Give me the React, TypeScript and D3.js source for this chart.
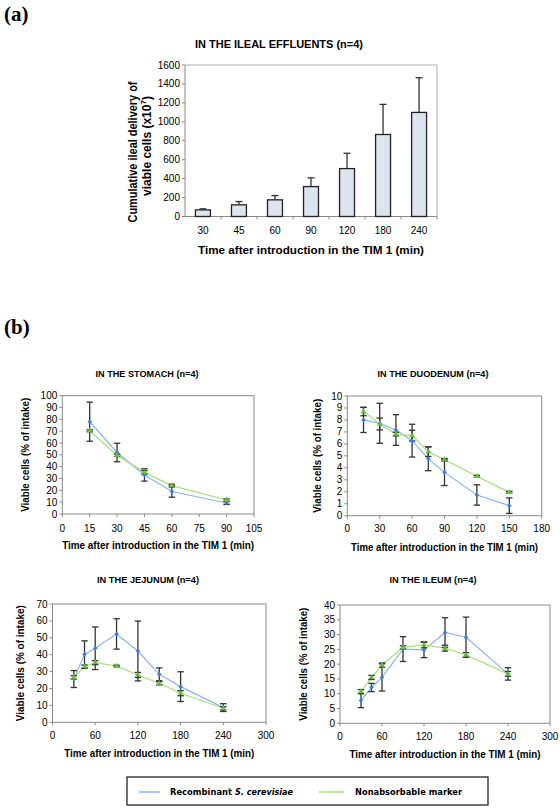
import React from 'react';
import * as d3 from 'd3';

// ---------- DATA ----------
const barCategories = ['30', '45', '60', '90', '120', '180', '240'];
const barValues = [70, 123, 176, 316, 506, 866, 1099];
const barErrors = [11, 35, 45, 92, 162, 318, 367];
const barTicks = [0, 200, 400, 600, 800, 1000, 1200, 1400, 1600];

const stomachTimes = [15, 30, 45, 60, 90];
const stomachRecomb = [78, 52, 33, 19, 9.3];
const stomachRecombSd = [16.5, 7.8, 5.2, 4.8, 1.2];
const stomachMarker = [70.4, 49.6, 35.2, 24, 11.8];
const stomachMarkerSd = [0.8, 1, 1.5, 1.2, 1];

const duodenumTimes = [15, 30, 45, 60, 75, 90, 120, 150];
const duodenumRecomb = [8.0, 7.72, 7.16, 6.27, 4.76, 3.62, 1.73, 0.84];
const duodenumRecombSd = [1.05, 1.67, 1.28, 1.37, 1.0, 1.1, 0.85, 0.65];
const duodenumMarker = [8.7, 7.66, 6.82, 6.69, 5.35, 4.68, 3.29, 1.95];
const duodenumMarkerSd = [0.35, 0.5, 0.15, 0.45, 0.4, 0.1, 0.08, 0.08];

const jejunumTimes = [30, 45, 60, 90, 120, 150, 180, 240];
const jejunumRecomb = [25.6, 40.2, 43.8, 52.3, 42.2, 28.4, 21.1, 8.7];
const jejunumRecombSd = [5, 8, 12.6, 9, 17.7, 3.8, 8.8, 2.3];
const jejunumMarker = [26.6, 32.9, 35.3, 33.3, 28, 23.1, 17.2, 8.3];
const jejunumMarkerSd = [1, 1, 1.2, 0.5, 1.5, 1, 1.5, 1];

const ileumTimes = [30, 45, 60, 90, 120, 150, 180, 240];
const ileumRecomb = [7.7, 12.1, 15.5, 25.1, 24.8, 30.7, 29.1, 16.7];
const ileumRecombSd = [2.4, 1.4, 4.6, 4.2, 2.6, 5, 6.8, 2.1];
const ileumMarker = [10.7, 15.5, 19.7, 25.7, 26.5, 25.4, 23.1, 16.7];
const ileumMarkerSd = [0.7, 0.7, 0.7, 0.5, 1, 1, 0.8, 0.8];

const seriesNames = ['Recombinant', 'S. cerevisiae', 'Nonabsorbable marker'];

// ---------- STYLE ----------
const BLUE_LINE = '#8db6e6';
const BLUE_MARK = '#3b7dd8';
const GREEN_LINE = '#a8de7e';
const GREEN_MARK = '#5ec23a';
const ERR = '#333';
const FRAME = '#8a8a8a';
const TICKFONT = '"Liberation Sans", Arial, sans-serif';
const BOLDFONT = '"DejaVu Sans", Verdana, sans-serif';

type PanelProps = {
  title: string;
  titleX: number; titleY: number; titleLen: number;
  x0: number; x1: number; y0: number; y1: number;
  xMax: number; xStep: number; yMax: number; yStep: number;
  times: number[];
  rec: number[]; recSd: number[];
  mar: number[]; marSd: number[];
  xLabelY: number; xTitleY: number; xTitleLen: number;
  yTitleX: number; yTitleLen: number;
};

function LinePanel(p: PanelProps) {
  const x = d3.scaleLinear().domain([0, p.xMax]).range([p.x0, p.x1]);
  const y = d3.scaleLinear().domain([0, p.yMax]).range([p.y1, p.y0]);
  const xt = d3.range(0, p.xMax + 0.001, p.xStep);
  const yt = d3.range(0, p.yMax + 0.001, p.yStep);
  const line = d3.line<number>().x((_, i) => x(p.times[i])).y(d => y(d));
  const yMid = (p.y0 + p.y1) / 2;
  const tri = d3.symbol().type(d3.symbolTriangle).size(14)() as string;
  const err = (vals: number[], sds: number[], key: string, cap: number) =>
    p.times.map((t, i) => {
      const cx = x(t);
      const top = y(vals[i] + sds[i]);
      const bot = y(Math.max(0, vals[i] - sds[i]));
      return (
        <g key={key + i} stroke={ERR} strokeWidth={1.3}>
          <line x1={cx} x2={cx} y1={top} y2={bot} />
          <line x1={cx - cap} x2={cx + cap} y1={top} y2={top} />
          <line x1={cx - cap} x2={cx + cap} y1={bot} y2={bot} />
        </g>
      );
    });
  return (
    <g>
      <text x={p.titleX} y={p.titleY} textAnchor="middle" fontFamily={TICKFONT} fontWeight="bold" fontSize={9.5}
        textLength={p.titleLen} lengthAdjust="spacingAndGlyphs">{p.title}</text>
      <rect x={p.x0} y={p.y0} width={p.x1 - p.x0} height={p.y1 - p.y0} fill="none" stroke={FRAME} strokeWidth={1} />
      {yt.map(v => (
        <g key={'y' + v}>
          <line x1={p.x0 - 3} x2={p.x0} y1={y(v)} y2={y(v)} stroke={FRAME} />
          <text x={p.x0 - 5} y={y(v) + 3.5} textAnchor="end" fontFamily={TICKFONT} fontSize={10}>{v}</text>
        </g>
      ))}
      {xt.map(v => (
        <g key={'x' + v}>
          <line x1={x(v)} x2={x(v)} y1={p.y1} y2={p.y1 + 3} stroke={FRAME} />
          <text x={x(v)} y={p.xLabelY} textAnchor="middle" fontFamily={TICKFONT} fontSize={10}>{v}</text>
        </g>
      ))}
      <path d={line(p.rec) as string} fill="none" stroke={BLUE_LINE} strokeWidth={1.2} />
      <path d={line(p.mar) as string} fill="none" stroke={GREEN_LINE} strokeWidth={1.2} />
      {err(p.rec, p.recSd, 'r', 3.2)}
      {err(p.mar, p.marSd, 'm', 3.2)}
      {p.times.map((t, i) => (
        <rect key={'rm' + i} x={x(t) - 1.6} y={y(p.rec[i]) - 1.6} width={3.2} height={3.2} fill={BLUE_MARK}
          transform={`rotate(45 ${x(t)} ${y(p.rec[i])})`} />
      ))}
      {p.times.map((t, i) => (
        <path key={'mm' + i} d={tri} transform={`translate(${x(t)},${y(p.mar[i])})`} fill={GREEN_MARK} />
      ))}
      <text x={(p.x0 + p.x1) / 2} y={p.xTitleY} textAnchor="middle" fontFamily={TICKFONT} fontWeight="bold" fontSize={10}
        textLength={p.xTitleLen} lengthAdjust="spacingAndGlyphs">Time after introduction in the TIM 1 (min)</text>
      <text transform={`translate(${p.yTitleX},${yMid}) rotate(-90)`} textAnchor="middle" fontFamily={TICKFONT}
        fontWeight="bold" fontSize={10.5} textLength={p.yTitleLen} lengthAdjust="spacingAndGlyphs">Viable cells (% of intake)</text>
    </g>
  );
}

function BarPanel() {
  const x0 = 185, x1 = 437, y0 = 65, y1 = 216.5;
  const x = d3.scaleBand().domain(barCategories).range([x0, x1]).paddingInner(0.585).paddingOuter(0.29);
  const y = d3.scaleLinear().domain([0, 1600]).range([y1, y0]);
  const band = d3.scaleBand().domain(barCategories).range([x0, x1]);
  return (
    <g>
      <text x={279} y={48} textAnchor="middle" fontFamily={TICKFONT} fontWeight="bold" fontSize={10.5}
        textLength={168} lengthAdjust="spacingAndGlyphs">IN THE ILEAL EFFLUENTS (n=4)</text>
      <line x1={x0} x2={x1} y1={y0} y2={y0} stroke="#b0b0b0" />
      <line x1={x1} x2={x1} y1={y0} y2={y1} stroke="#b0b0b0" />
      <line x1={x0} x2={x0} y1={y0} y2={y1} stroke={FRAME} />
      <line x1={x0} x2={x1} y1={y1} y2={y1} stroke={FRAME} />
      {barTicks.map(v => (
        <g key={'by' + v}>
          <line x1={x0 - 3} x2={x0} y1={y(v)} y2={y(v)} stroke={FRAME} />
          <text x={x0 - 5} y={y(v) + 3.5} textAnchor="end" fontFamily={TICKFONT} fontSize={10}>{v}</text>
        </g>
      ))}
      {barCategories.map((c) => (
        <g key={'bx' + c}>
          <line x1={(band(c) as number) + band.bandwidth()} x2={(band(c) as number) + band.bandwidth()} y1={y1} y2={y1 + 3} stroke={FRAME} />
          <text x={(band(c) as number) + band.bandwidth() / 2} y={234} textAnchor="middle" fontFamily={TICKFONT} fontSize={10}>{c}</text>
        </g>
      ))}
      {barCategories.map((c, i) => {
        const bx = x(c) as number;
        const cx = bx + x.bandwidth() / 2;
        const top = y(barValues[i]);
        const et = y(barValues[i] + barErrors[i]);
        return (
          <g key={'bar' + c}>
            <line x1={cx} x2={cx} y1={top} y2={et} stroke={ERR} strokeWidth={1.3} />
            <line x1={cx - 3.5} x2={cx + 3.5} y1={et} y2={et} stroke={ERR} strokeWidth={1.3} />
            <rect x={bx} y={top} width={x.bandwidth()} height={y1 - top} fill="#dde4ef" stroke="#222" strokeWidth={1.3} />
          </g>
        );
      })}
      <text x={311} y={254} textAnchor="middle" fontFamily={TICKFONT} fontWeight="bold" fontSize={11.5}
        textLength={226} lengthAdjust="spacingAndGlyphs">Time after introduction in the TIM 1 (min)</text>
      <text transform="translate(137,152) rotate(-90)" textAnchor="middle" fontFamily={TICKFONT} fontWeight="bold"
        fontSize={12} textLength={141} lengthAdjust="spacingAndGlyphs">Cumulative ileal delivery of</text>
      <text transform="translate(151,146) rotate(-90)" textAnchor="middle" fontFamily={TICKFONT} fontWeight="bold"
        fontSize={12}>viable cells (x10<tspan fontSize={8} dy={-5}>7</tspan><tspan dy={5}>)</tspan></text>
    </g>
  );
}

export default function App() {
  return (
    <svg width={560} height={811} style={{ position: 'absolute', left: 0, top: 0, background: '#fff' }}>
      <rect x={0} y={0} width={560} height={811} fill="#fff" />
      <text x={4} y={21} fontFamily='"Liberation Serif", "Times New Roman", serif' fontWeight="bold" fontSize={21}>(a)</text>
      <text x={4} y={334} fontFamily='"Liberation Serif", "Times New Roman", serif' fontWeight="bold" fontSize={21}>(b)</text>
      <BarPanel />
      <LinePanel title="IN THE STOMACH (n=4)" titleX={147} titleY={377} titleLen={103}
        x0={62.3} x1={254} y0={395.7} y1={514} xMax={105} xStep={15} yMax={100} yStep={10}
        times={stomachTimes} rec={stomachRecomb} recSd={stomachRecombSd} mar={stomachMarker} marSd={stomachMarkerSd}
        xLabelY={532} xTitleY={549} xTitleLen={192} yTitleX={29} yTitleLen={114} />
      <LinePanel title="IN THE DUODENUM (n=4)" titleX={433} titleY={377} titleLen={111}
        x0={347.3} x1={541.7} y0={396} y1={515.7} xMax={180} xStep={30} yMax={10} yStep={1}
        times={duodenumTimes} rec={duodenumRecomb} recSd={duodenumRecombSd} mar={duodenumMarker} marSd={duodenumMarkerSd}
        xLabelY={532} xTitleY={551} xTitleLen={187} yTitleX={321} yTitleLen={114} />
      <LinePanel title="IN THE JEJUNUM (n=4)" titleX={148} titleY={583} titleLen={102}
        x0={52.5} x1={266} y0={604} y1={722.3} xMax={300} xStep={60} yMax={70} yStep={10}
        times={jejunumTimes} rec={jejunumRecomb} recSd={jejunumRecombSd} mar={jejunumMarker} marSd={jejunumMarkerSd}
        xLabelY={739} xTitleY={757} xTitleLen={190} yTitleX={24} yTitleLen={116} />
      <LinePanel title="IN THE ILEUM (n=4)" titleX={433} titleY={583} titleLen={87}
        x0={340} x1={550} y0={605} y1={723.3} xMax={300} xStep={60} yMax={40} yStep={5}
        times={ileumTimes} rec={ileumRecomb} recSd={ileumRecombSd} mar={ileumMarker} marSd={ileumMarkerSd}
        xLabelY={740} xTitleY={758} xTitleLen={191} yTitleX={307} yTitleLen={113} />
      <g>
        <rect x={127} y={777} width={361} height={28} fill="#fff" stroke="#111" strokeWidth={1.2} />
        <line x1={139} x2={160} y1={792} y2={792} stroke={BLUE_LINE} strokeWidth={1.5} />
        <text x={170} y={795} fontFamily={BOLDFONT} fontWeight="bold" fontSize={9.5} textLength={62}
          lengthAdjust="spacingAndGlyphs">{seriesNames[0]}</text>
        <text x={235} y={795} fontFamily={BOLDFONT} fontWeight="bold" fontStyle="italic" fontSize={9.5} textLength={58}
          lengthAdjust="spacingAndGlyphs">{seriesNames[1]}</text>
        <line x1={319} x2={344} y1={792} y2={792} stroke={GREEN_LINE} strokeWidth={1.5} />
        <text x={355} y={795} fontFamily={BOLDFONT} fontWeight="bold" fontSize={9.5} textLength={107}
          lengthAdjust="spacingAndGlyphs">{seriesNames[2]}</text>
      </g>
    </svg>
  );
}
